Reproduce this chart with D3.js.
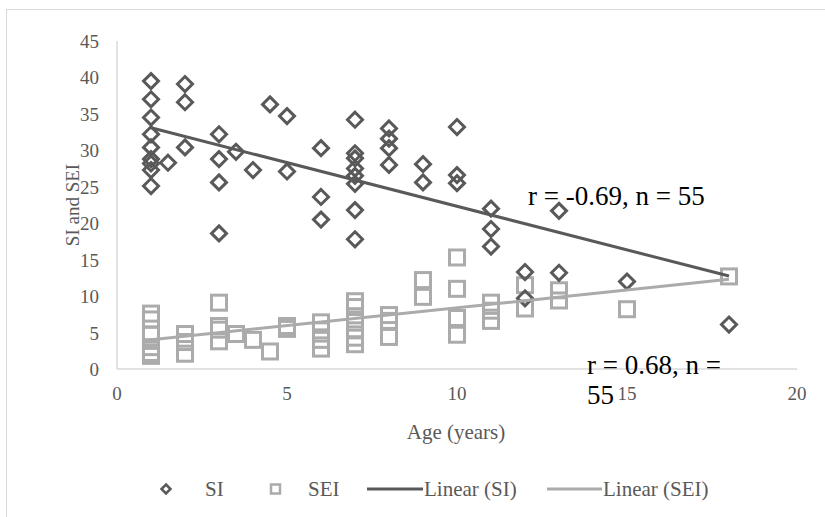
<!DOCTYPE html>
<html>
<head>
<meta charset="utf-8">
<script src="https://cdn.jsdelivr.net/npm/d3@7"></script>
<style>
  body { margin: 0; background: #fff; }
  text { font-family: "Liberation Serif", "Times New Roman", serif; }
</style>
</head>
<body>
<div id="chart"></div>
<script>
// SI points (age, value)
var siAge = [1,1,1,1,1,1,1,1,1, 1.5, 2,2,2, 3,3,3,3, 3.5, 4, 4.5, 5,5, 6,6,6,
             7,7,7,7,7,7,7,7, 8,8,8,8, 9,9, 10,10,10, 11,11,11, 12,12, 13,13, 15, 18];
var siVal = [39.5,37.0,34.5,32.2,30.4,28.8,28.2,27.3,25.1, 28.3, 39.1,36.6,30.4,
             32.2,28.8,25.6,18.6, 29.8, 27.3, 36.3, 34.7,27.1, 30.3,23.6,20.5,
             34.2,29.6,28.9,27.5,26.5,25.4,21.8,17.8, 33.0,31.6,30.3,28.0, 28.1,25.6,
             33.2,26.6,25.5, 22.0,19.2,16.8, 13.3,9.7, 21.7,13.2, 12.0, 6.1];
// SEI points (age, value)
var seiAge = [1,1,1,1,1,1, 2,2,2, 3,3,3,3, 3.5, 4, 4.5, 5,5, 6,6,6,6,
              7,7,7,7,7,7, 8,8,8, 9,9, 10,10,10,10, 11,11,11, 12,12, 13,13, 15, 18];
var seiVal = [7.6,6.8,4.7,3.0,2.2,1.8, 4.8,3.7,2.1, 9.1,5.9,5.4,3.8, 4.8, 4.0, 2.4, 5.9,5.5,
              6.4,5.3,4.0,2.8, 9.3,8.5,6.8,5.3,4.3,3.4, 7.4,6.6,4.4, 12.2,9.9,
              15.3,11.0,7.0,4.7, 9.1,8.0,6.6, 11.5,8.3, 10.8,9.4, 8.2, 12.7];
// linear trend lines: [x, y] endpoints
var siTrend = [[1, 33.1], [18, 12.75]];
var seiTrend = [[1, 4.0], [18, 12.3]];
var xTicks = [0, 5, 10, 15, 20];
var yTicks = [0, 5, 10, 15, 20, 25, 30, 35, 40, 45];
var legendItems = ["SI", "SEI", "Linear (SI)", "Linear (SEI)"];

var W = 825, H = 517;
var dark = "#595959", light = "#ababab", axisCol = "#d9d9d9";

var svg = d3.select("#chart").append("svg").attr("width", W).attr("height", H);

// outer chart border
svg.append("rect").attr("x", 6.5).attr("y", 9.5).attr("width", W).attr("height", H)
   .attr("fill", "none").attr("stroke", "#d9d9d9").attr("stroke-width", 1);

var x = d3.scaleLinear().domain([0, 20]).range([117, 797]);
var y = d3.scaleLinear().domain([0, 45]).range([369, 41]);

// axes
svg.append("line").attr("x1", x(0)).attr("x2", x(20)).attr("y1", y(0)).attr("y2", y(0))
   .attr("stroke", axisCol).attr("stroke-width", 1.5);
svg.append("line").attr("x1", x(0)).attr("x2", x(0)).attr("y1", y(0)).attr("y2", y(45))
   .attr("stroke", axisCol).attr("stroke-width", 1.5);

svg.selectAll(".xt").data(xTicks).enter().append("text")
   .attr("x", function(d){ return x(d); }).attr("y", y(0) + 31)
   .attr("text-anchor", "middle").attr("fill", dark).style("font-size", "19px")
   .text(function(d){ return d; });
svg.selectAll(".yt").data(yTicks).enter().append("text")
   .attr("x", x(0) - 18).attr("y", function(d){ return y(d) + 7; })
   .attr("text-anchor", "end").attr("fill", dark).style("font-size", "19px")
   .text(function(d){ return d; });

svg.append("text").attr("x", 456).attr("y", 439).attr("text-anchor", "middle")
   .attr("fill", dark).style("font-size", "21px").text("Age (years)");
svg.append("text").attr("transform", "translate(79,205) rotate(-90)").attr("text-anchor", "middle")
   .attr("fill", dark).style("font-size", "19px").text("SI and SEI");

// SEI squares
var sq = 15;
svg.append("g").selectAll("rect").data(seiAge).enter().append("rect")
   .attr("x", function(d){ return x(d) - sq / 2; })
   .attr("y", function(d, i){ return y(seiVal[i]) - sq / 2; })
   .attr("width", sq).attr("height", sq)
   .attr("fill", "none").attr("stroke", light).attr("stroke-width", 3);

// SI diamonds
var dm = 7.5;
function diamond(cx, cy, r){
  return "M" + cx + "," + (cy - r) + "L" + (cx + r) + "," + cy + "L" + cx + "," + (cy + r) + "L" + (cx - r) + "," + cy + "Z";
}
svg.append("g").selectAll("path").data(siAge).enter().append("path")
   .attr("d", function(d, i){ return diamond(x(d), y(siVal[i]), dm); })
   .attr("fill", "none").attr("stroke", dark).attr("stroke-width", 3);

// trend lines
var line = d3.line().x(function(d){ return x(d[0]); }).y(function(d){ return y(d[1]); });
svg.append("path").attr("d", line(siTrend)).attr("stroke", dark).attr("stroke-width", 3).attr("fill", "none");
svg.append("path").attr("d", line(seiTrend)).attr("stroke", light).attr("stroke-width", 3).attr("fill", "none");

// annotations
svg.append("text").attr("x", 528).attr("y", 205).attr("fill", "#000").style("font-size", "27px")
   .text("r = -0.69, n = 55");
svg.append("text").attr("x", 587).attr("y", 374).attr("fill", "#000").style("font-size", "27px")
   .text("r = 0.68, n =");
svg.append("text").attr("x", 587).attr("y", 404).attr("fill", "#000").style("font-size", "27px")
   .text("55");

// legend
var lg = svg.append("g");
var ly = 489;
lg.append("path").attr("d", diamond(166, ly, 4.5)).attr("fill", "none").attr("stroke", dark).attr("stroke-width", 2.5);
lg.append("rect").attr("x", 271).attr("y", ly - 4.5).attr("width", 9).attr("height", 9)
  .attr("fill", "none").attr("stroke", light).attr("stroke-width", 2.5);
lg.append("line").attr("x1", 367).attr("x2", 423).attr("y1", ly).attr("y2", ly).attr("stroke", dark).attr("stroke-width", 3);
lg.append("line").attr("x1", 547).attr("x2", 602).attr("y1", ly).attr("y2", ly).attr("stroke", light).attr("stroke-width", 3);
var lx = [205, 308, 424, 603];
lg.selectAll("text").data(legendItems).enter().append("text")
  .attr("x", function(d, i){ return lx[i]; }).attr("y", ly + 7)
  .attr("fill", dark).style("font-size", "21px").text(function(d){ return d; });
</script>
</body>
</html>
